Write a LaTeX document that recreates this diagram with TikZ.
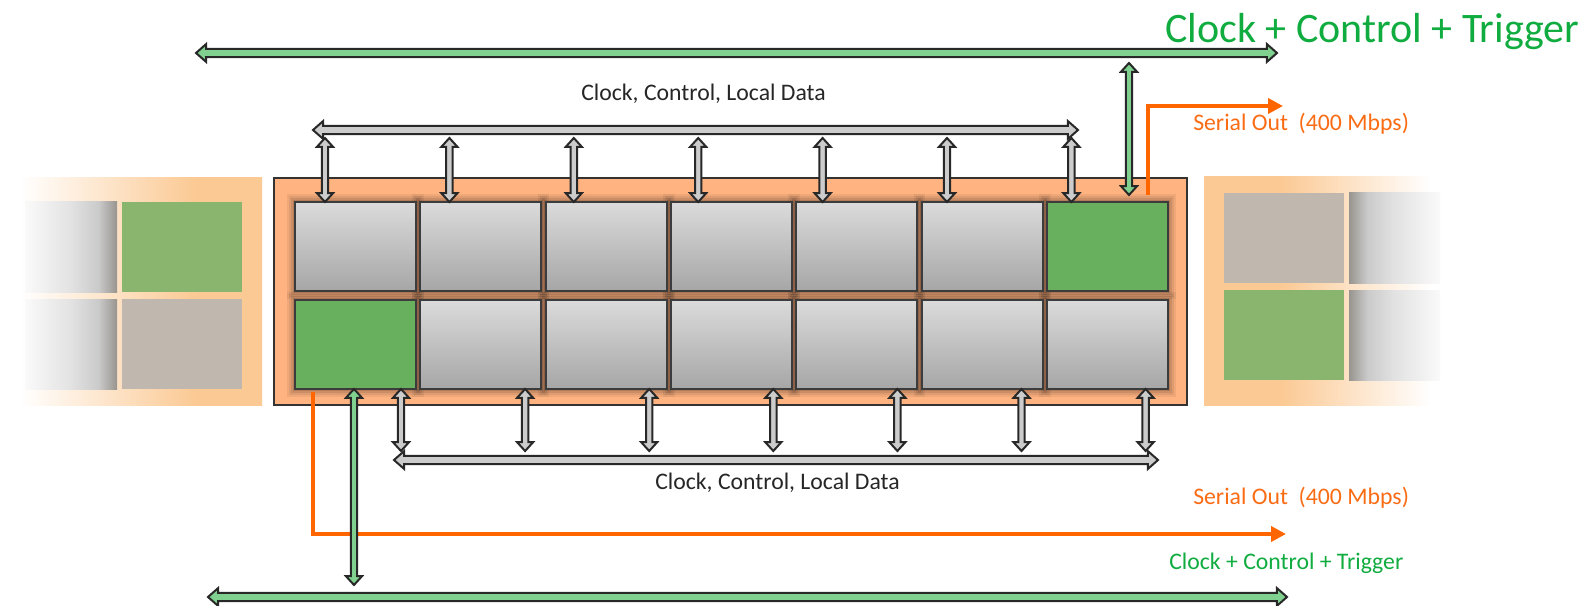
\documentclass[tikz,border=0pt]{standalone}
\usepackage{fontspec}
\setmainfont{Carlito}
\usetikzlibrary{arrows.meta,calc}

% palette
\definecolor{boxor}{RGB}{255,179,129}
\definecolor{boxline}{RGB}{51,51,51}
\definecolor{panelor}{RGB}{251,201,147}
\definecolor{cellgreen}{RGB}{138,181,110}
\definecolor{cellbeige}{RGB}{192,184,175}
\definecolor{tilegreen}{RGB}{104,176,94}
\definecolor{tiletop}{RGB}{219,219,219}
\definecolor{tilebot}{RGB}{166,166,166}
\definecolor{tileline}{RGB}{60,60,60}
\definecolor{busgray}{RGB}{204,204,204}
\definecolor{busgreen}{RGB}{128,209,143}
\definecolor{busline}{RGB}{40,40,40}
\definecolor{serialor}{RGB}{255,102,0}
\definecolor{serialtext}{RGB}{250,108,20}
\definecolor{bustext}{RGB}{16,172,64}
\definecolor{labeltext}{RGB}{38,38,38}
\definecolor{cfA}{RGB}{250,250,250}
\definecolor{cfB}{RGB}{226,226,226}
\definecolor{cfC}{RGB}{202,202,202}
\definecolor{cfD}{RGB}{152,148,143}

% soft fades of the neighbouring boards
\pgfdeclarehorizontalshading{leftfade}{100bp}{color(0bp)=(white); color(27bp)=(white); color(62bp)=(panelor); color(100bp)=(panelor)}
\pgfdeclarehorizontalshading{rightfade}{100bp}{color(0bp)=(panelor); color(40bp)=(panelor); color(70bp)=(white); color(100bp)=(white)}
\pgfdeclarehorizontalshading{cellfadeL}{100bp}{color(0bp)=(cfA); color(25bp)=(cfA); color(50bp)=(cfB); color(65bp)=(cfC); color(75bp)=(cfD); color(100bp)=(cfD)}
\pgfdeclarehorizontalshading{cellfadeR}{100bp}{color(0bp)=(cfD); color(25bp)=(cfD); color(35bp)=(cfC); color(50bp)=(cfB); color(75bp)=(cfA); color(100bp)=(cfA)}

% block-arrow geometry (horizontal and vertical buses)
\def\hs{3.1pt}\def\hh{6.7pt}\def\hk{7.6pt}
\def\vs{2.4pt}\def\vh{6.0pt}\def\vk{6.6pt}

\begin{document}
\begin{tikzpicture}[x=0.75pt,y=-0.75pt,
  tile/.style={draw=tileline, line width=1.5pt, minimum width=90.75pt, minimum height=66.75pt, inner sep=0pt, outer sep=0pt},
  graytile/.style={tile, top color=tiletop, bottom color=tilebot},
  greentile/.style={tile, fill=tilegreen},
  hbus/.style={draw=busline, line width=1.5pt, line join=miter, fill=#1,
    to path={let \p1=(\tikztostart), \p2=(\tikztotarget) in
      (\p1) -- (\x1+\hk,\y1+\hh) -- (\x1+\hk,\y1+\hs) -- (\x2-\hk,\y1+\hs) -- (\x2-\hk,\y1+\hh) -- (\x2,\y1)
      -- (\x2-\hk,\y1-\hh) -- (\x2-\hk,\y1-\hs) -- (\x1+\hk,\y1-\hs) -- (\x1+\hk,\y1-\hh) -- cycle}},
  hbus/.default=busgray,
  vbus/.style={draw=busline, line width=1.5pt, line join=miter, fill=#1,
    to path={let \p1=(\tikztostart), \p2=(\tikztotarget) in
      (\p1) -- (\x1+\vh,\y1-\vk) -- (\x1+\vs,\y1-\vk) -- (\x1+\vs,\y2+\vk) -- (\x1+\vh,\y2+\vk) -- (\x1,\y2)
      -- (\x1-\vh,\y2+\vk) -- (\x1-\vs,\y2+\vk) -- (\x1-\vs,\y1-\vk) -- (\x1-\vh,\y1-\vk) -- cycle}},
  vbus/.default=busgray,
  serial/.style={draw=serialor, line width=3pt, -{Triangle[length=11.25pt,width=11.25pt]}},
  lbl/.style={anchor=base west, inner sep=0pt, font=\fontsize{17.8}{20}\selectfont},
]
\useasboundingbox (0,0) rectangle (1589,606);

% neighbouring boards, fading out
\shade[shading=leftfade] (10,178) rectangle (262,405);
\shade[shading=cellfadeL] (25,202) rectangle (117,292);
\shade[shading=cellfadeL] (25,299) rectangle (117,389);
\fill[cellgreen] (122,202) rectangle (242,292);
\fill[cellbeige] (122,299) rectangle (242,389);

\shade[shading=rightfade] (1204,177) rectangle (1456,405);
\fill[cellbeige] (1224,193) rectangle (1344,283);
\fill[cellgreen] (1224,290) rectangle (1344,380);
\shade[shading=cellfadeR] (1349,193) rectangle (1440,283);
\shade[shading=cellfadeR] (1349,290) rectangle (1440,380);

% the board
\node[draw=boxline, fill=boxor, line width=1.5pt, inner sep=0pt, outer sep=0pt,
      minimum width=684.75pt, minimum height=170pt] (board) at (730.5,291.5) {};

% soft shadows under the chips
\foreach \i in {0,...,6}{
  \pgfmathsetmacro{\xl}{295+125.33*\i}
  \pgfmathsetmacro{\xr}{\xl+121}
  \foreach \e/\op in {8/0.06,6/0.07,4/0.09,2/0.11}{
    \fill[black,opacity=\op] (\xl-\e,202-\e) rectangle (\xr+\e,291+\e);
    \fill[black,opacity=\op] (\xl-\e,300-\e) rectangle (\xr+\e,389+\e);
  }
}

% chips
\foreach \i/\us/\ls in {0/graytile/greentile,1/graytile/graytile,2/graytile/graytile,3/graytile/graytile,4/graytile/graytile,5/graytile/graytile,6/greentile/graytile}{
  \node[\us] (u\i) at ({355.5+125.33*\i},246.5) {};
  \node[\ls] (l\i) at ({355.5+125.33*\i},344.5) {};
}

% local buses and their taps
\coordinate (tbL) at (313,130);
\coordinate (tbR) at (1078,130);
\draw[hbus] (tbL) to (tbR);
\coordinate (bbL) at (394,460);
\coordinate (bbR) at (1158,460);
\draw[hbus] (bbL) to (bbR);
\foreach \i in {0,...,6}{
  \coordinate (tt\i) at ({325+124.4*\i},138);
  \draw[vbus] (tt\i) to (tt\i |- u\i.north);
  \coordinate (bt\i) at ({401+124.1*\i},451);
  \draw[vbus] (bt\i |- l\i.south) to (bt\i);
}

% serial outputs
\coordinate (so1s) at (1148,195);
\coordinate (so1e) at (1283,106);
\draw[serial] (so1s) |- (so1e);
\coordinate (so2s) at (313,392);
\coordinate (so2e) at (1286,534);
\draw[serial] (so2s) |- (so2e);

% clock / control / trigger lines
\coordinate (gtL) at (196,53);
\coordinate (gtR) at (1277,53);
\draw[hbus=busgreen] (gtL) to (gtR);
\coordinate (gvt) at (1129,63);
\coordinate (gvb) at (1129,195);
\draw[vbus=busgreen] (gvt) to (gvb);
\coordinate (gbv) at (354,585);
\draw[vbus=busgreen] (gbv |- l0.south) to (gbv);
\coordinate (gbL) at (208,597);
\coordinate (gbR) at (1287,597);
\draw[hbus=busgreen] (gbL) to (gbR);

% labels
\node[anchor=base west, inner sep=0pt, text=bustext, font=\fontsize{31.5}{36}\selectfont] (cctTop) at (1165,43) {Clock + Control + Trigger};
\node[lbl, text=labeltext] (cclTop) at (581,101) {Clock, Control, Local Data};
\node[lbl, text=labeltext] (cclBot) at (655,489) {Clock, Control, Local Data};
\node[lbl, text=serialtext] (soTop) at (1193,131) {Serial Out\ \ (400 Mbps)};
\node[lbl, text=serialtext] (soBot) at (1193,504) {Serial Out\ \ (400 Mbps)};
\node[lbl, text=bustext] (cctBot) at (1169,569) {Clock + Control + Trigger};
\end{tikzpicture}
\end{document}
